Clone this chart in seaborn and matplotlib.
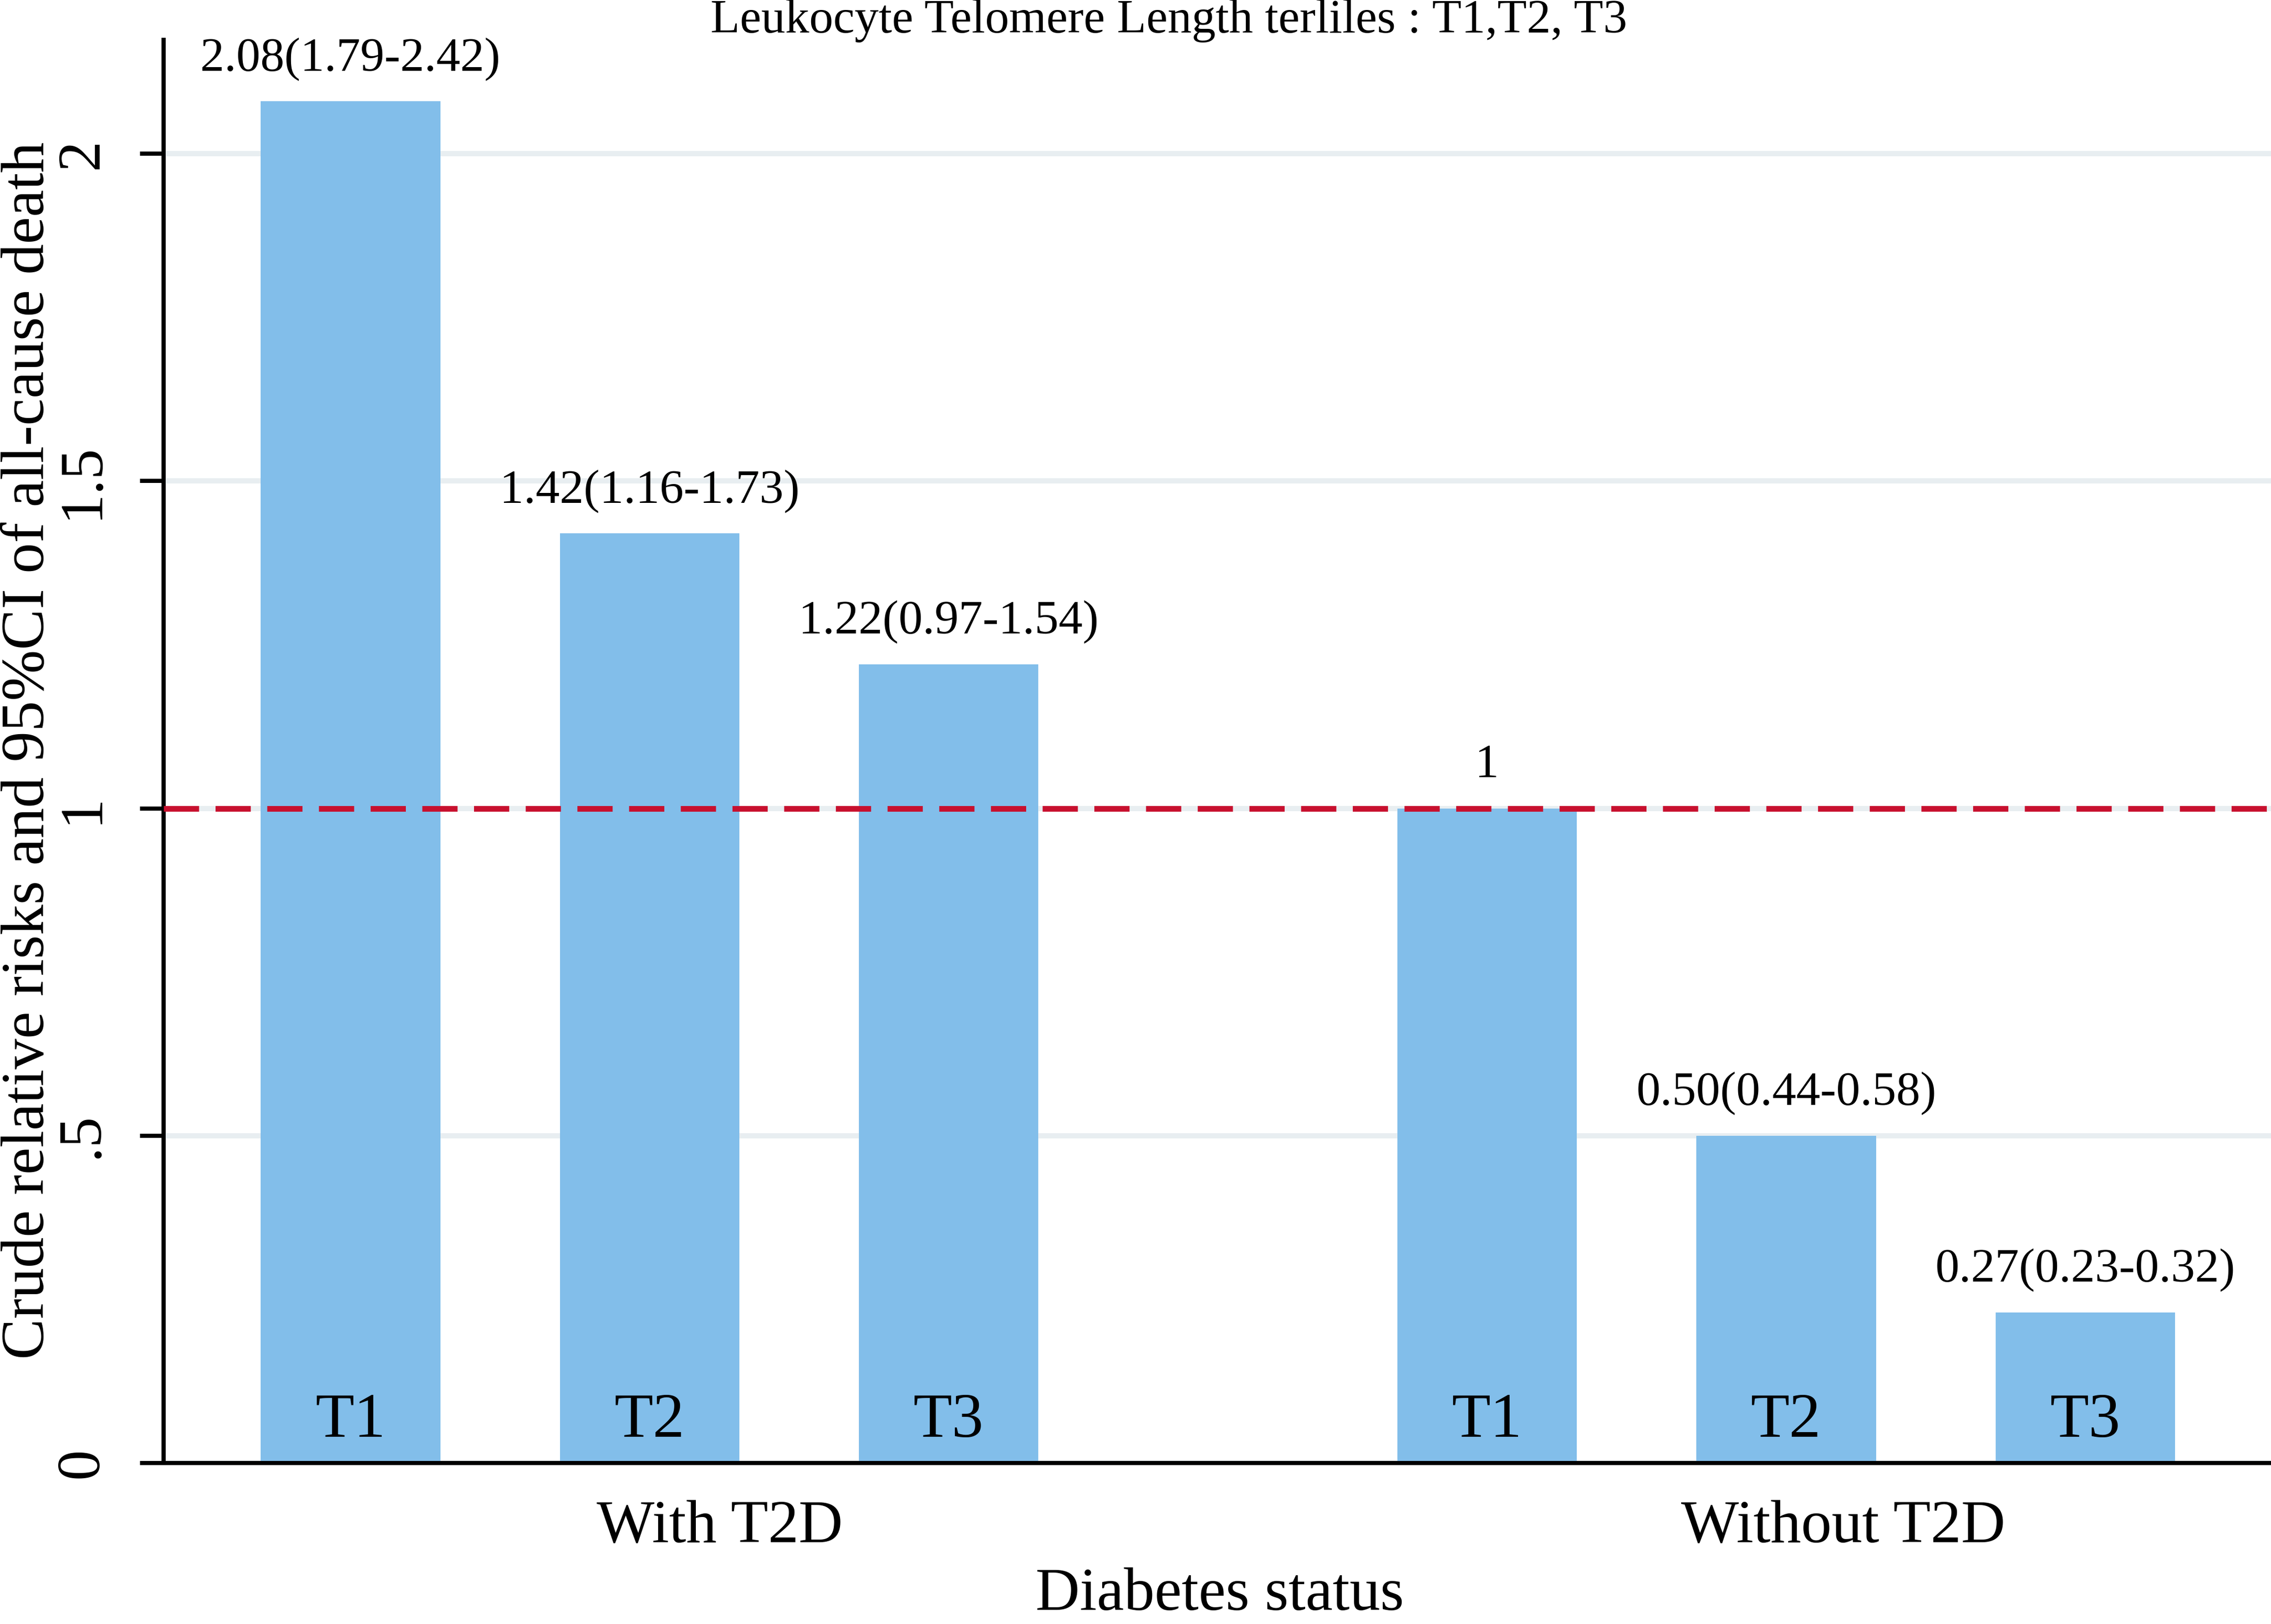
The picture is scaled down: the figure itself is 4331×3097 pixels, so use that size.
import matplotlib
matplotlib.use("Agg")
import matplotlib.pyplot as plt
import seaborn as sns
import pandas as pd

# ---- data ----
groups = ["With T2D", "With T2D", "With T2D", "Without T2D", "Without T2D", "Without T2D"]
tertiles = ["T1", "T2", "T3", "T1", "T2", "T3"]
values = [2.08, 1.42, 1.22, 1.00, 0.50, 0.23]
value_labels = ["2.08(1.79-2.42)", "1.42(1.16-1.73)", "1.22(0.97-1.54)",
                "1", "0.50(0.44-0.58)", "0.27(0.23-0.32)"]
group_names = ["With T2D", "Without T2D"]
tertile_names = ["T1", "T2", "T3"]
ytick_values = [0, 0.5, 1, 1.5, 2]
ytick_labels = ["0", ".5", "1", "1.5", "2"]
reference_value = 1.0
title = "Leukocyte Telomere Length terliles : T1,T2, T3"
xlabel = "Diabetes status"
ylabel = "Crude relative risks and 95%CI of all-cause death"

# ---- style ----
sns.set_theme(style="white")
plt.rcParams["font.family"] = ["Liberation Serif", "DejaVu Serif"]

BAR_COLOR = "#82BEEA"
REF_COLOR = "#C8102E"
GRID_COLOR = "#E8EEF1"
GROUP_STEP = 3.8
GROUP_LABEL_SHIFT = [0.235, 0.19]

W, H = 4331, 3097
df = pd.DataFrame({"group": groups, "tertile": tertiles, "value": values,
                   "label": value_labels})
df["gidx"] = df["group"].map({g: i for i, g in enumerate(group_names)})
df["tidx"] = df["tertile"].map({t: i for i, t in enumerate(tertile_names)})
df["pos"] = df["gidx"] * GROUP_STEP + df["tidx"]

fig = plt.figure(figsize=(W / 300, H / 300), dpi=300)
ax = fig.add_axes([312 / W, (H - 2790) / H, 1 - 312 / W, (2790 - 76) / H])

sns.barplot(data=df, x="pos", y="value", native_scale=True, orient="x",
            width=0.6, color=BAR_COLOR, saturation=1, errorbar=None,
            linewidth=0, ax=ax, zorder=2)

ax.set_xlim(-0.625, 6.421)
ax.set_ylim(0, 2.174)

ax.yaxis.grid(True, color=GRID_COLOR, linewidth=2.4, zorder=0)
ax.xaxis.grid(False)
ax.set_axisbelow(True)

ax.axhline(reference_value, color=REF_COLOR, linewidth=2.6,
           dashes=(6.2, 2.9), zorder=3)

for sp in ["top", "right"]:
    ax.spines[sp].set_visible(False)
for sp in ["left", "bottom"]:
    ax.spines[sp].set_color("black")
    ax.spines[sp].set_linewidth(1.9)

ax.set_yticks(ytick_values)
ax.set_yticklabels(ytick_labels, rotation=90, va="center")
ax.tick_params(axis="y", length=10.8, width=1.9, pad=13.5, labelsize=28,
               colors="black", left=True)
ax.set_xticks([])
ax.set_xlabel("")
ax.set_ylabel("")

# value labels above bars and tertile labels inside bars
for _, r in df.iterrows():
    ax.annotate(r["label"], (r["pos"], r["value"]), xytext=(0, 14.2),
                textcoords="offset points", ha="center", va="baseline",
                fontsize=22, color="black", zorder=4)
    ax.annotate(r["tertile"], (r["pos"], 0), xytext=(0, 12),
                textcoords="offset points", ha="center", va="baseline",
                fontsize=29, color="black", zorder=4)

# group labels
for gi, g in enumerate(group_names):
    center = gi * GROUP_STEP + (len(tertile_names) - 1) / 2 + GROUP_LABEL_SHIFT[gi]
    ax.annotate(g, (center, 0), xytext=(0, -36.2), textcoords="offset points",
                ha="center", va="baseline", fontsize=28, color="black",
                annotation_clip=False)

fig.text(2326 / W, (H - 3070) / H, xlabel, ha="center", va="baseline",
         fontsize=28, color="black")
fig.text(2 / W, (H - 1431) / H, ylabel, rotation=90, ha="left", va="center",
         fontsize=28, color="black")
fig.text(2229 / W, (H - 62) / H, title, ha="center", va="baseline",
         fontsize=22, color="black")

fig.savefig("out.png", dpi=300, facecolor="white")
